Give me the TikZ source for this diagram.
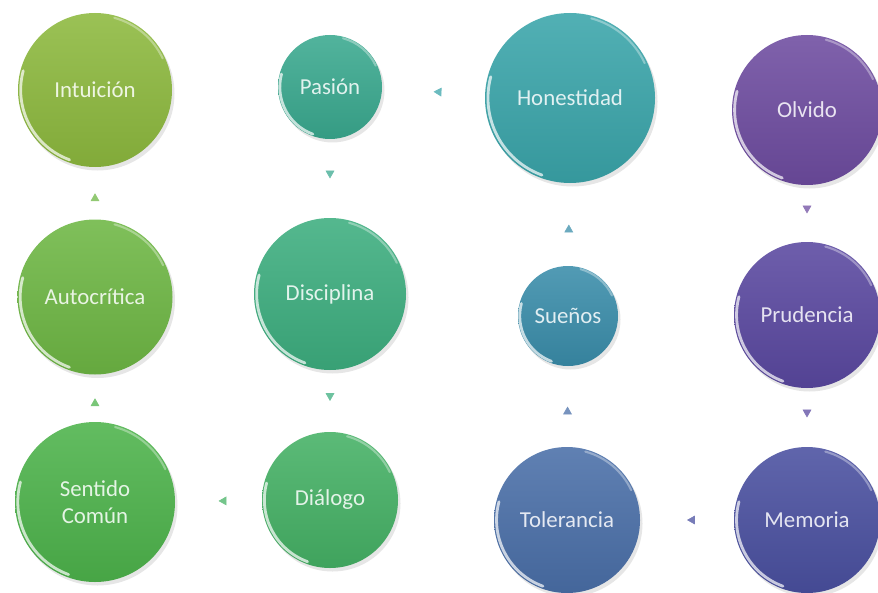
\documentclass[tikz,border=0pt]{standalone}
\usepackage{fontspec}
\setmainfont{Carlito}
\usetikzlibrary{calc,shadows,arrows.meta,decorations.markings}

% Colours of the circles
\definecolor{cIntu}{RGB}{141,185,62}
\definecolor{cAuto}{RGB}{110,183,68}
\definecolor{cSent}{RGB}{77,179,75}
\definecolor{cDial}{RGB}{69,177,101}
\definecolor{cDisc}{RGB}{61,174,127}
\definecolor{cPasi}{RGB}{58,169,143}
\definecolor{cHone}{RGB}{58,165,170}
\definecolor{cSuen}{RGB}{58,141,170}
\definecolor{cTole}{RGB}{74,111,168}
\definecolor{cMemo}{RGB}{74,80,160}
\definecolor{cPrud}{RGB}{90,72,160}
\definecolor{cOlvi}{RGB}{110,76,160}

\tikzset{
    bola/.style={circle, draw=none, align=center, font=\fontsize{13}{15}\selectfont,
        text=white!85!#1, top color=#1!88!white, bottom color=#1!92!black,
        drop shadow={opacity=.2, shadow xshift=.05, shadow yshift=-.07},
        path picture={
            \draw[white, opacity=.7, line width=1.6pt, line cap=round]
                let \p1=($(path picture bounding box.north east)-(path picture bounding box.center)$) in
                ($(path picture bounding box.center)+(165:.965*\x1)$) arc[start angle=165, end angle=250, radius=.965*\x1];
            \draw[white, opacity=.35, line width=1.2pt, line cap=round]
                let \p1=($(path picture bounding box.north east)-(path picture bounding box.center)$) in
                ($(path picture bounding box.center)+(75:.97*\x1)$) arc[start angle=75, end angle=25, radius=.97*\x1];
        }},
    flecha/.style={postaction={decorate}, decoration={markings,
        mark=at position .5 with {\arrow[#1!75!white]{Triangle[length=4.5pt, width=5pt]}}}}
}

\begin{document}
\begin{tikzpicture}
    \useasboundingbox (0,0) rectangle (17.56,-11.84);

    % First column
    \node[bola=cIntu, minimum size=3.08cm] (intu) at (1.9,-1.8) {Intuición};
    \node[bola=cAuto, minimum size=3.1cm] (auto) at (1.9,-5.94) {Autocrítica};
    \node[bola=cSent, minimum size=3.2cm] (sent) at (1.9,-10.04) {Sentido\\Común};

    % Second column
    \node[bola=cPasi, minimum size=2.08cm] (pasi) at (6.6,-1.74) {Pasión};
    \node[bola=cDisc, minimum size=3.04cm] (disc) at (6.6,-5.88) {Disciplina};
    \node[bola=cDial, minimum size=2.72cm] (dial) at (6.6,-10.0) {Diálogo};

    % Third column
    \node[bola=cHone, minimum size=3.4cm] (hone) at (11.4,-1.96) {Honestidad};
    \node[bola=cSuen, minimum size=2.0cm] (suen) at (11.36,-6.32) {Sueños};
    \node[bola=cTole, minimum size=2.92cm] (tole) at (11.34,-10.4) {Tolerancia};

    % Fourth column
    \node[bola=cOlvi, minimum size=3.0cm] (olvi) at (16.14,-2.2) {Olvido};
    \node[bola=cPrud, minimum size=2.92cm] (prud) at (16.14,-6.3) {Prudencia};
    \node[bola=cMemo, minimum size=2.92cm] (memo) at (16.14,-10.4) {Memoria};

    % Small arrows between the circles
    \foreach \a/\b/\c in {olvi/prud/cOlvi, prud/memo/cPrud, memo/tole/cMemo,
        tole/suen/cTole, suen/hone/cSuen, hone/pasi/cHone, pasi/disc/cPasi,
        disc/dial/cDisc, dial/sent/cDial, sent/auto/cSent, auto/intu/cAuto}
        \path[flecha=\c] (\a) -- (\b);
\end{tikzpicture}
\end{document}
